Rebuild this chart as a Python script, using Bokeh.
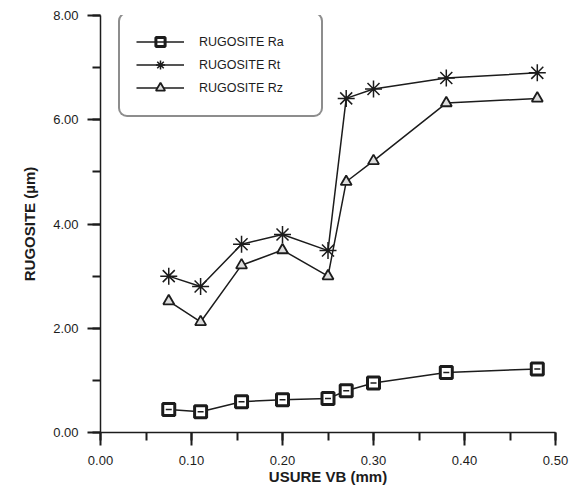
from bokeh.plotting import figure
from bokeh.models import (Range1d, SingleIntervalTicker, NumeralTickFormatter,
                          Legend, LegendItem)
from bokeh.embed import file_html
from bokeh.resources import INLINE

# ---- data ----
usure_vb = [0.075, 0.11, 0.155, 0.20, 0.25, 0.27, 0.30, 0.38, 0.48]
rugosite_ra = [0.44, 0.40, 0.59, 0.63, 0.65, 0.80, 0.95, 1.15, 1.22]
rugosite_rt = [3.00, 2.80, 3.61, 3.80, 3.49, 6.41, 6.59, 6.80, 6.90]
rugosite_rz = [2.52, 2.12, 3.21, 3.50, 3.00, 4.81, 5.21, 6.32, 6.41]
series_labels = ["RUGOSITE Ra", "RUGOSITE Rt", "RUGOSITE Rz"]
x_title = "USURE VB (mm)"
y_title = "RUGOSITE (µm)"

INK = "#1c1c1c"
FONT = "Liberation Sans"

p = figure(frame_width=455, frame_height=417,
           x_range=Range1d(0, 0.5), y_range=Range1d(0, 8),
           output_backend="svg", toolbar_location=None,
           background_fill_color="white", border_fill_color="white")
p.min_border_left = 100
p.min_border_top = 15
p.min_border_right = 28
p.min_border_bottom = 56
p.outline_line_color = None
p.grid.visible = False

p.xaxis.ticker = SingleIntervalTicker(interval=0.1, num_minor_ticks=2)
p.yaxis.ticker = SingleIntervalTicker(interval=2, num_minor_ticks=2)
for ax in (p.xaxis[0], p.yaxis[0]):
    ax.formatter = NumeralTickFormatter(format="0.00")
    ax.axis_line_color = INK
    ax.axis_line_width = 1.5
    ax.major_tick_line_color = INK
    ax.major_tick_line_width = 2
    ax.minor_tick_line_color = INK
    ax.minor_tick_line_width = 2
    ax.major_tick_in = 0
    ax.minor_tick_in = 0
    ax.major_tick_out = 13
    ax.minor_tick_out = 8
    ax.major_label_text_font = FONT
    ax.major_label_text_font_size = "13px"
    ax.major_label_text_color = INK
    ax.axis_label_text_font = FONT
    ax.axis_label_text_font_size = "15px"
    ax.axis_label_text_font_style = "bold"
    ax.axis_label_text_color = INK

p.xaxis.axis_label = x_title
p.yaxis.axis_label = y_title
p.xaxis.major_label_standoff = 10
p.xaxis.axis_label_standoff = 0
p.yaxis.major_label_standoff = 9
p.yaxis.axis_label_standoff = 12

# Ra
l_ra = p.line(usure_vb, rugosite_ra, line_color=INK, line_width=1.5)
m_ra = p.scatter(usure_vb, rugosite_ra, marker="square", size=12,
                 fill_color="white", line_color=INK, line_width=3)
d_ra = p.scatter(usure_vb, rugosite_ra, marker="dash", size=6,
                 line_color=INK, line_width=1.5)
# Rt
l_rt = p.line(usure_vb, rugosite_rt, line_color=INK, line_width=1.5)
m_rt = p.scatter(usure_vb, rugosite_rt, marker="asterisk", size=17,
                 line_color=INK, line_width=1.5)
# Rz
l_rz = p.line(usure_vb, rugosite_rz, line_color=INK, line_width=1.5)
m_rz = p.scatter(usure_vb, rugosite_rz, marker="triangle", size=11,
                 fill_color="#dddddd", line_color=INK, line_width=1.8)

legend = Legend(items=[
    LegendItem(label=series_labels[0], renderers=[l_ra, m_ra, d_ra]),
    LegendItem(label=series_labels[1], renderers=[l_rt, m_rt]),
    LegendItem(label=series_labels[2], renderers=[l_rz, m_rz]),
], location=(18, 315))
legend.label_text_font = FONT
legend.label_text_font_size = "12.5px"
legend.label_text_color = INK
legend.glyph_width = 48
legend.glyph_height = 23
legend.label_height = 23
legend.label_width = 106
legend.label_standoff = 15
legend.spacing = 0
legend.padding = 16
legend.margin = 0
legend.border_line_color = INK
legend.border_line_width = 2
legend.background_fill_color = "white"
legend.background_fill_alpha = 1
try:
    legend.border_radius = 9
except Exception:
    pass
p.add_layout(legend, "center")

open("out.html", "w").write(file_html(p, INLINE))
